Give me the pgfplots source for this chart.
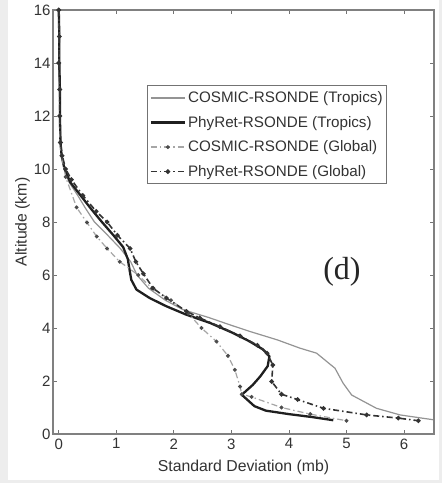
\documentclass[border=0pt]{standalone}
\usepackage{fontspec}
\setmainfont{Liberation Sans}
\newfontfamily\timesfont{Liberation Serif}
\usepackage{pgfplots}
\pgfplotsset{compat=1.18}

\begin{document}
\begin{tikzpicture}
\fill[black!7] (-53pt,-49pt) rectangle (389pt,434pt);
\fill[white] (-45pt,-46pt) rectangle (386pt,434pt);
\begin{axis}[
    at={(0pt,0pt)}, anchor=south west,
    scale only axis, width=381pt, height=424pt,
    xmin=-0.1, xmax=6.52, ymin=0, ymax=16,
    xtick={0,1,...,6}, ytick={0,2,...,16},
    tick align=inside, major tick length=4pt,
    axis line style={black!50, line width=1.3pt},
    every tick/.style={black!55, line width=0.9pt},
    /pgf/number format/assume math mode=true,
    tick label style={font=\fontsize{15}{17}\selectfont, text=black!80},
    xticklabel style={yshift=-1pt},
    yticklabel style={xshift=1pt},
    label style={font=\fontsize{15.8}{18}\selectfont, text=black!80},
    xlabel={Standard Deviation (mb)},
    ylabel={Altitude (km)},
    xlabel style={yshift=-4pt},
    ylabel style={yshift=-3pt},
    legend style={at={(0.247,0.8225)}, anchor=north west,
        draw=black!55, line width=1.1pt, fill=white,
        font=\fontsize{15.2}{17}\selectfont, text=black!80,
        row sep=8pt, inner xsep=2pt, inner ysep=4pt},
    legend cell align=left,
    legend image code/.code={\draw[mark repeat=2,mark phase=2] plot coordinates {(0cm,0cm) (0.6cm,0cm) (1.2cm,0cm)};},
]
% COSMIC-RSONDE (Tropics)
\addplot[black!42, line width=1.2pt] coordinates {
(0.00,16) (0.01,15) (0.00,14) (0.01,13) (0.02,12) (0.03,11) (0.05,10.5)
(0.10,10) (0.18,9.5) (0.33,9.0) (0.47,8.5) (0.62,8.0) (0.85,7.5) (1.07,7.0)
(1.25,6.5) (1.36,6.0) (1.56,5.5) (1.85,5.05) (2.16,4.69) (2.6,4.4)
(3.0,4.1) (3.32,3.87) (3.8,3.55) (4.19,3.24) (4.48,3.05) (4.8,2.48)
(4.94,1.92) (5.09,1.47) (5.52,0.97) (5.93,0.72) (6.5,0.54)};
\addlegendentry{COSMIC-RSONDE (Tropics)}
% PhyRet-RSONDE (Tropics)
\addplot[black!88, line width=2.3pt] coordinates {
(0.00,16) (0.01,15) (0.01,14) (0.02,13) (0.02,12) (0.03,11) (0.05,10.5)
(0.10,10) (0.20,9.5) (0.38,9.0) (0.56,8.5) (0.75,8.0) (0.95,7.5) (1.12,7.05)
(1.20,6.6) (1.23,6.2) (1.26,5.82) (1.35,5.45) (1.58,5.13) (1.87,4.82)
(2.22,4.5) (2.63,4.19) (3.03,3.81) (3.32,3.49) (3.55,3.19) (3.66,2.93)
(3.63,2.56) (3.5,2.17) (3.37,1.85) (3.18,1.48) (3.4,1.05) (3.6,0.88)
(4.0,0.75) (4.4,0.64) (4.77,0.52)};
\addlegendentry{PhyRet-RSONDE (Tropics)}
% COSMIC-RSONDE (Global)
\addplot[black!35, line width=1.2pt, dash pattern=on 6pt off 3pt on 1.5pt off 3pt,
    mark=*, mark size=1.3pt, mark options={solid, fill=black!70, draw=black!70}] coordinates {
(0.00,16) (0.01,15) (0.00,14) (0.01,13) (0.01,12) (0.02,11) (0.05,10.5)
(0.12,9.7) (0.31,8.55) (0.49,7.98) (0.66,7.45) (0.84,7.0) (1.06,6.5)
(1.38,6.0) (1.62,5.5) (1.95,5.05) (2.25,4.55) (2.48,4.0) (2.74,3.49)
(2.94,2.95) (3.06,2.42) (3.15,1.79) (3.18,1.5) (3.35,1.4) (3.87,1.0)
(4.37,0.75) (5.0,0.5)};
\addlegendentry{COSMIC-RSONDE (Global)}
% PhyRet-RSONDE (Global)
\addplot[black!80, line width=1.6pt, dash pattern=on 6pt off 3pt on 1.5pt off 3pt,
    mark=*, mark size=1.4pt, mark options={solid, fill=black!80, draw=black!80}] coordinates {
(0.00,16) (0.01,15) (0.00,14) (0.02,13) (0.02,12) (0.03,11) (0.06,10.5)
(0.12,10) (0.22,9.6) (0.42,9.0) (0.65,8.4) (0.84,8.0) (1.02,7.5) (1.24,7.0)
(1.34,6.5) (1.47,6.05) (1.64,5.5) (1.87,5.13) (2.22,4.63) (2.45,4.38)
(2.8,4.05) (3.15,3.7) (3.45,3.35) (3.62,3.05) (3.72,2.6) (3.7,1.98)
(3.87,1.5) (4.15,1.3) (4.6,0.97) (5.35,0.72) (5.9,0.6) (6.25,0.5)};
\addlegendentry{PhyRet-RSONDE (Global)}
\node[font=\timesfont\fontsize{32}{34}\selectfont, text=black!85] at (axis cs:4.92,6.13) {(d)};
\end{axis}
\end{tikzpicture}
\end{document}
